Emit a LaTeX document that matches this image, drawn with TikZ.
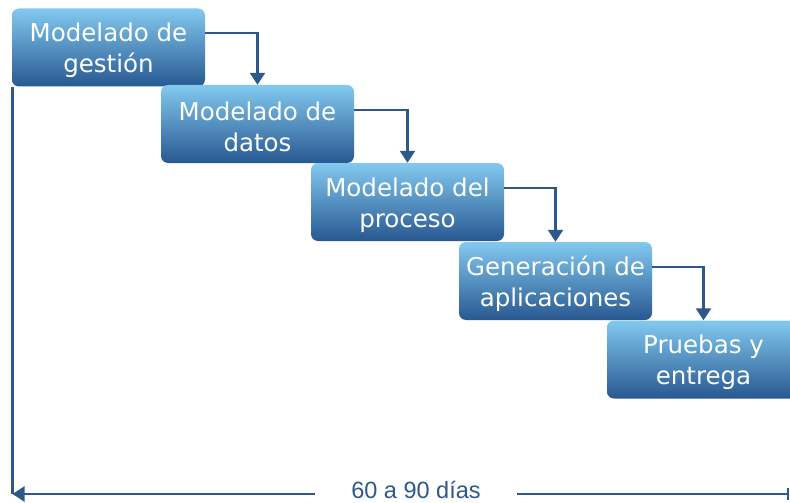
\documentclass[tikz,border=0pt]{standalone}
\usepackage{fontspec}
\newfontfamily\boxfont{DejaVu Sans}
\newfontfamily\labfont{Liberation Sans}
\usepackage{tikz}
\usetikzlibrary{arrows.meta,positioning}

\definecolor{boxtop}{RGB}{130,201,239}
\definecolor{boxbot}{RGB}{40,88,145}
\definecolor{linecol}{RGB}{44,88,140}

\begin{document}
\begin{tikzpicture}[x=1pt,y=-1pt]
\tikzset{fase/.style={rectangle,rounded corners=7pt,minimum width=193pt,minimum height=78pt,inner sep=0pt,
  top color=boxtop,bottom color=boxbot}}
\tikzset{rotulo/.style={text=white,align=center,inner sep=0pt,yshift=-3pt,font=\boxfont\fontsize{24.5}{31}\selectfont}}
\tikzset{flecha/.style={draw=linecol,line width=2.4pt,-{Triangle[length=12pt,width=15pt]}}}
\tikzset{linea/.style={draw=linecol,line width=2.4pt}}

\useasboundingbox (0,0) rectangle (790,503);
\clip (0,0) rectangle (790,503);

\node [fase,label={[rotulo]center:Modelado de\\gestión}] (gestion) at (108.5,47.5) {};
\node [fase,label={[rotulo]center:Modelado de\\datos}] (datos) at (257.5,124) {};
\node [fase,label={[rotulo]center:Modelado del\\proceso}] (proceso) at (407.5,202) {};
\node [fase,label={[rotulo]center:Generación de\\aplicaciones}] (aplic) at (555.5,281) {};
\node [fase,label={[rotulo]center:Pruebas y\\entrega}] (pruebas) at (703.5,359.5) {};

\path [flecha] ([yshift=14.5pt]gestion.east) -| (datos.north);
\path [flecha] ([yshift=14pt]datos.east) -| (proceso.north);
\path [flecha] ([yshift=14pt]proceso.east) -| (aplic.north);
\path [flecha] ([yshift=14pt]aplic.east) -| (pruebas.north);

% duracion total
\coordinate (esq) at (12.5,494);
\coordinate (fin) at (789,494);
\node [inner xsep=36pt,inner ysep=0pt,text=linecol,font=\labfont\fontsize{23.5}{28}\selectfont] (dias) at (416,490) {60 a 90 días};
\path [linea] (gestion.south west -| esq) -- (esq);
\path [flecha] (dias.west |- esq) -- (esq);
\path [linea,-{Bar[width=12pt]}] (dias.east |- fin) -- (fin);

\end{tikzpicture}
\end{document}
